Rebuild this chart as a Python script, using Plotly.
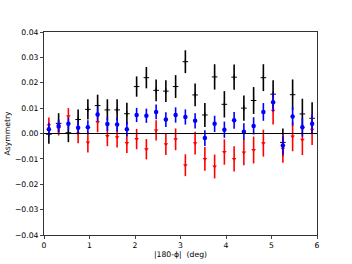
import plotly.graph_objects as go

x = [0.107 + k * 6 / 28 for k in range(28)]

black_y = [-0.0003, 0.0040, 0.0003, 0.0055, 0.0095, 0.0110, 0.0093, 0.0093, 0.0078, 0.0185,
           0.0220, 0.0170, 0.0167, 0.0185, 0.0283, 0.0152, 0.0073, 0.0223, 0.0115, 0.0222,
           0.0100, 0.0130, 0.0220, 0.0155, -0.0035, 0.0153, 0.0077, 0.0060]
black_err = [0.0037, 0.0040, 0.0037, 0.0040, 0.0040, 0.0043, 0.0042, 0.0042, 0.0043, 0.0040,
             0.0042, 0.0043, 0.0043, 0.0045, 0.0045, 0.0045, 0.0047, 0.0050, 0.0052, 0.0050,
             0.0050, 0.0053, 0.0053, 0.0055, 0.0055, 0.0060, 0.0060, 0.0063]

blue_y = [0.0017, 0.0030, 0.0038, 0.0023, 0.0025, 0.0075, 0.0037, 0.0035, 0.0017, 0.0073,
          0.0070, 0.0085, 0.0055, 0.0073, 0.0065, 0.0050, -0.0018, 0.0038, 0.0015, 0.0052,
          0.0007, 0.0030, 0.0085, 0.0123, -0.0047, 0.0067, 0.0025, 0.0038]
blue_err = [0.0025, 0.0025, 0.0025, 0.0025, 0.0027, 0.0027, 0.0027, 0.0027, 0.0028, 0.0028,
            0.0028, 0.0029, 0.0029, 0.0030, 0.0030, 0.0030, 0.0031, 0.0032, 0.0032, 0.0033,
            0.0033, 0.0034, 0.0035, 0.0035, 0.0036, 0.0036, 0.0037, 0.0037]

red_y = [0.0033, 0.0022, 0.0068, 0.0000, -0.0035, 0.0045, -0.0010, -0.0015, -0.0037, -0.0022,
         -0.0062, 0.0012, -0.0042, -0.0023, -0.0125, -0.0038, -0.0100, -0.0130, -0.0073, -0.0100,
         -0.0075, -0.0065, -0.0038, 0.0090, -0.0060, -0.0012, -0.0025, 0.0015]
red_err = [0.0030, 0.0030, 0.0032, 0.0038, 0.0040, 0.0040, 0.0040, 0.0040, 0.0040, 0.0040,
           0.0040, 0.0040, 0.0043, 0.0043, 0.0043, 0.0045, 0.0047, 0.0047, 0.0050, 0.0050,
           0.0050, 0.0053, 0.0053, 0.0055, 0.0055, 0.0058, 0.0060, 0.0060]

y_ticks = [-0.04, -0.03, -0.02, -0.01, 0.0, 0.01, 0.02, 0.03, 0.04]
y_labels = ["\u22120.04", "\u22120.03", "\u22120.02", "\u22120.01", "0.00", "0.01", "0.02", "0.03", "0.04"]
x_ticks = [0, 1, 2, 3, 4, 5, 6]

fig = go.Figure()

def add(yv, err, color, symbol, size, lw=0):
    fig.add_trace(go.Scatter(
        x=x, y=yv, mode="markers",
        marker=dict(color=color, symbol=symbol, size=size, line=dict(width=lw, color=color)),
        error_y=dict(type="data", array=err, color=color, thickness=1.6, width=0),
        showlegend=False))

add(black_y, black_err, "#000000", "cross-thin", 4, 1)
add(red_y, red_err, "#ff0000", "triangle-down", 4)
add(blue_y, blue_err, "#0000ff", "circle", 4.5)

fig.add_shape(type="line", xref="paper", x0=0, x1=1, yref="y", y0=0, y1=0,
              line=dict(color="black", width=1.2))

fig.update_layout(
    width=352, height=264,
    margin=dict(l=44, r=35, t=32, b=29),
    paper_bgcolor="white", plot_bgcolor="white",
    font=dict(family="DejaVu Sans", size=7.7, color="black"),
    xaxis=dict(range=[0, 6], tickvals=x_ticks, ticks="outside", ticklen=3, tickwidth=0.8,
               showgrid=False, zeroline=False, showline=True, linecolor="#333333", linewidth=1,
               mirror=True, automargin=False,
               title=dict(text="|180-\u03d5|  (deg)", standoff=2, font=dict(size=7.7))),
    yaxis=dict(range=[-0.04, 0.04], tickvals=y_ticks, ticktext=y_labels, ticks="outside",
               ticklen=3, tickwidth=0.8, showgrid=False, zeroline=False, showline=True,
               linecolor="#333333", linewidth=1, mirror=True, automargin=False,
               title=dict(text="Asymmetry", standoff=3, font=dict(size=7.7))),
)

fig.write_html("out.html", config={"displayModeBar": False},
               post_script="document.body.style.margin='0';")
